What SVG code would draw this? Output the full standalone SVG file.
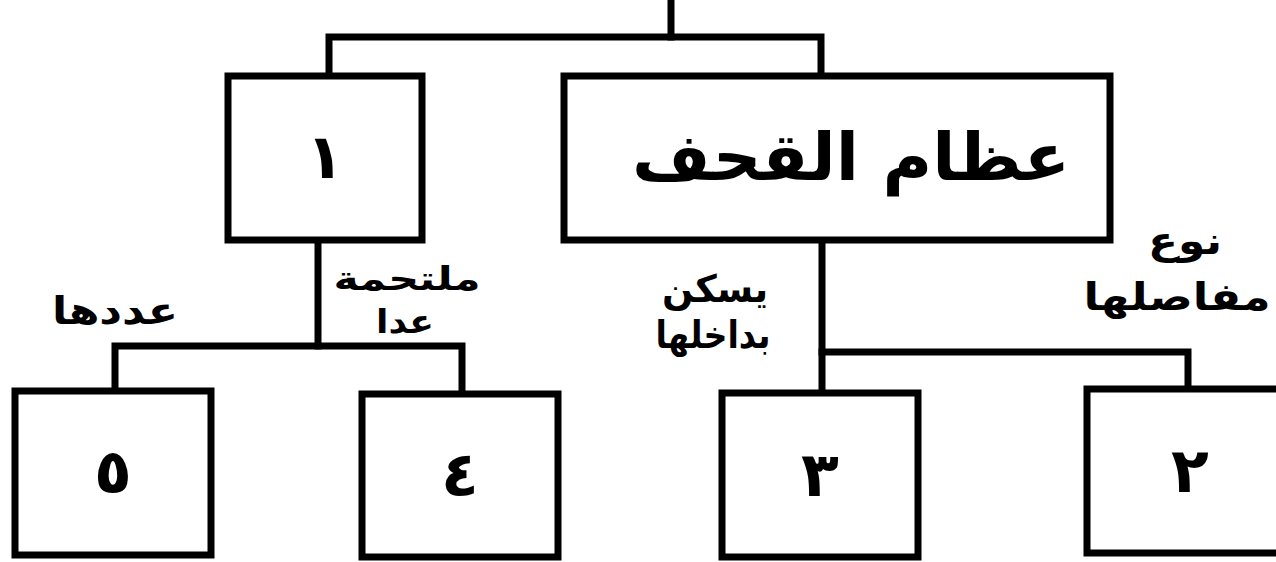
<svg xmlns="http://www.w3.org/2000/svg" width="1276" height="562" viewBox="0 0 1276 562">
<style>
.box{fill:#fff;stroke:#000;stroke-width:7}
.ln{fill:none;stroke:#000;stroke-width:7;stroke-linejoin:miter;stroke-linecap:square}
.t{font-family:"DejaVu Sans",sans-serif;font-weight:bold;fill:#000;text-anchor:middle;direction:rtl}
.big{font-size:66px}
.num{font-size:62px}
.lbl{font-size:38px}
.sm{font-size:33px}
</style>
<rect width="1276" height="562" fill="#fff"/>
<g id="connectors">
<polyline class="ln" points="671,0 671,37"/>
<polyline class="ln" points="329,74 329,37 821,37 821,74"/>
<polyline class="ln" points="318,240 318,346"/>
<polyline class="ln" points="115,390 115,346 462,346 462,393"/>
<polyline class="ln" points="822,240 822,392"/>
<polyline class="ln" points="822,352 1188,352 1188,388"/>
</g>
<g id="node-1">
<rect class="box" x="228" y="76" width="194" height="164"/>
<text class="t num" x="325" y="178">١</text>
</g>
<g id="node-skull">
<rect class="box" x="564" y="76" width="546" height="164"/>
<text class="t big" x="851" y="180" textLength="438" lengthAdjust="spacingAndGlyphs">عظام القحف</text>
</g>
<g id="node-5">
<rect class="box" x="15" y="391" width="196" height="164"/>
<text class="t num" x="113" y="493">٥</text>
</g>
<g id="node-4">
<rect class="box" x="362" y="394" width="196" height="163"/>
<text class="t num" x="460" y="496">٤</text>
</g>
<g id="node-3">
<rect class="box" x="722" y="393" width="196" height="164"/>
<text class="t num" x="820" y="496">٣</text>
</g>
<g id="node-2">
<rect class="box" x="1087" y="389" width="200" height="164"/>
<text class="t num" x="1190" y="492">٢</text>
</g>
<g id="labels">
<text class="t lbl" x="115" y="324" textLength="126" lengthAdjust="spacingAndGlyphs">عددها</text>
<text class="t sm" x="407" y="290" textLength="147" lengthAdjust="spacingAndGlyphs">ملتحمة</text>
<text class="t sm" x="405" y="333" textLength="58" lengthAdjust="spacingAndGlyphs">عدا</text>
<text class="t lbl" x="715" y="302" textLength="106" lengthAdjust="spacingAndGlyphs">يسكن</text>
<text class="t lbl" x="713" y="348" textLength="115" lengthAdjust="spacingAndGlyphs">بداخلها</text>
<text class="t lbl" x="1185" y="254" textLength="74" lengthAdjust="spacingAndGlyphs">نوع</text>
<text class="t lbl" x="1177" y="310" textLength="187" lengthAdjust="spacingAndGlyphs">مفاصلها</text>
</g>
</svg>
